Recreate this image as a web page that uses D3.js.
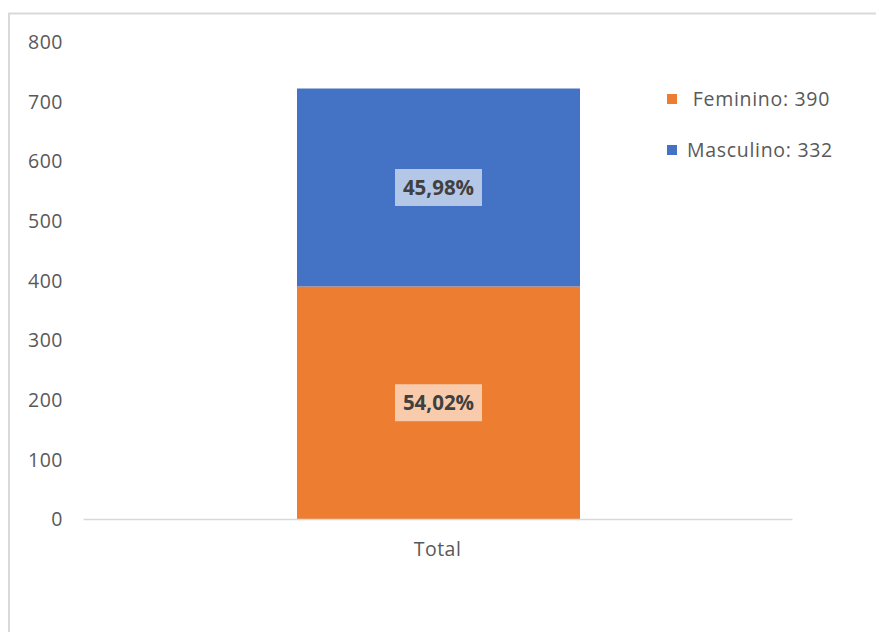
<!DOCTYPE html>
<html>
<head>
<meta charset="utf-8">
<script src="https://cdn.jsdelivr.net/npm/d3@7"></script>
<style>
  html, body { margin: 0; padding: 0; background: #fff; }
  svg { display: block; font-family: "Open Sans", "Noto Sans", sans-serif; }
</style>
</head>
<body>
<svg id="chart" width="876" height="632"></svg>
<script>
// Category and stacked series
const categories = ["Total"];
const seriesNames = ["Feminino", "Masculino"];
const feminino = [390];
const masculino = [332];
const percentLabels = { Feminino: ["54,02%"], Masculino: ["45,98%"] };
const yTicks = [0, 100, 200, 300, 400, 500, 600, 700, 800];

const colors = { Feminino: "#ed7d31", Masculino: "#4472c4" };
const labelFill = { Feminino: "#f8cbad", Masculino: "#b4c7e7" };

const rows = categories.map((c, i) => ({ category: c, Feminino: feminino[i], Masculino: masculino[i] }));
const stacked = d3.stack().keys(seriesNames)(rows);

const svg = d3.select("#chart");
const textFont = "'Open Sans', 'Noto Sans', sans-serif";

// Chart frame
svg.append("path")
  .attr("d", "M9,632 V13.5 H876")
  .attr("fill", "none")
  .attr("stroke", "#d9d9d9")
  .attr("stroke-width", 2);

const plot = { left: 83, right: 792, top: 42, bottom: 519 };

const x = d3.scaleBand().domain(categories).range([plot.left, plot.right]).paddingInner(0.6).paddingOuter(0.3);
const y = d3.scaleLinear().domain([0, 800]).range([plot.bottom, plot.top]);

// Y axis labels (no line)
const yAxis = svg.append("g")
  .attr("transform", `translate(${plot.left - 20},0)`)
  .call(d3.axisLeft(y).tickValues(yTicks).tickSize(0).tickPadding(0));
yAxis.select(".domain").remove();
yAxis.selectAll("text")
  .attr("fill", "#595959")
  .attr("dy", "0.34em")
  .style("font-size", "19.5px")
  .style("letter-spacing", "0.5px")
  .style("font-family", textFont);

// Bars
const barX = 297, barW = 283;
const bx = d3.scaleLinear().domain([x(categories[0]), x(categories[0]) + x.bandwidth()]).range([barX, barX + barW]);

stacked.forEach(layer => {
  const g = svg.append("g");
  g.selectAll("rect")
    .data(layer)
    .join("rect")
    .attr("x", d => bx(x(d.data.category)))
    .attr("width", d => bx(x(d.data.category) + x.bandwidth()) - bx(x(d.data.category)))
    .attr("y", d => y(d[1]))
    .attr("height", d => y(d[0]) - y(d[1]))
    .attr("fill", colors[layer.key]);
});

// X axis line and label
const xAxis = svg.append("g")
  .attr("transform", `translate(0,${plot.bottom})`)
  .call(d3.axisBottom(x).tickSize(0).tickPadding(23));
xAxis.select(".domain").attr("stroke", "#d9d9d9").attr("stroke-width", 1.5);
xAxis.selectAll("text")
  .attr("fill", "#595959")
  .style("font-size", "19.5px")
  .style("letter-spacing", "0.5px")
  .style("font-family", textFont);

// Percentage labels with filled boxes
stacked.forEach(layer => {
  layer.forEach((d, i) => {
    const cx = bx(x(d.data.category) + x.bandwidth() / 2);
    const cy = (y(d[0]) + y(d[1])) / 2;
    const bw = 87, bh = 37;
    svg.append("rect")
      .attr("x", cx - bw / 2)
      .attr("y", cy - bh / 2)
      .attr("width", bw)
      .attr("height", bh)
      .attr("fill", labelFill[layer.key]);
    svg.append("text")
      .attr("x", cx)
      .attr("y", cy)
      .attr("dy", "0.36em")
      .attr("text-anchor", "middle")
      .attr("fill", "#404040")
      .style("font-size", "20.5px")
      .style("font-weight", "bold")
      .style("font-family", textFont)
      .text(percentLabels[layer.key][i]);
  });
});

// Legend
const legendItems = [
  { key: "Feminino", text: " Feminino: " + d3.sum(feminino), y: 99 },
  { key: "Masculino", text: "Masculino: " + d3.sum(masculino), y: 150 }
];
const legend = svg.append("g");
legendItems.forEach(it => {
  legend.append("rect")
    .attr("x", 667).attr("y", it.y - 5)
    .attr("width", 10).attr("height", 10)
    .attr("fill", colors[it.key]);
  legend.append("text")
    .attr("x", 687).attr("y", it.y)
    .attr("dy", "0.36em")
    .attr("fill", "#595959")
    .style("font-size", "19.5px")
    .style("letter-spacing", "0.7px")
    .style("font-family", textFont)
    .style("white-space", "pre")
    .attr("xml:space", "preserve")
    .text(it.text);
});
</script>
</body>
</html>
